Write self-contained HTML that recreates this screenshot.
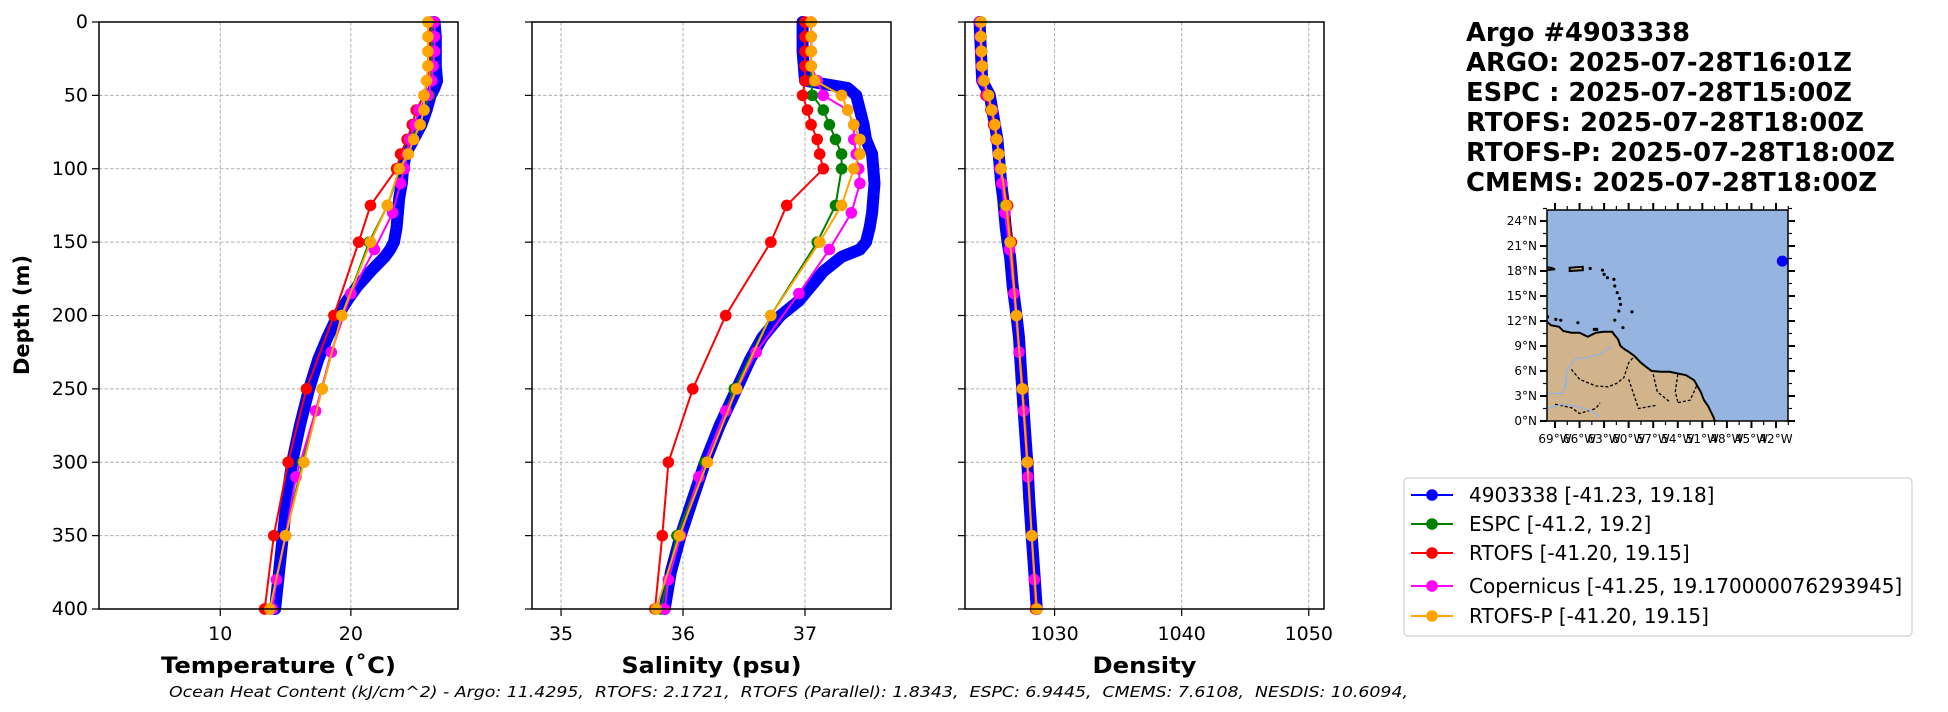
<!DOCTYPE html>
<html><head><meta charset="utf-8"><style>
html,body{margin:0;padding:0;background:#fff;}
svg{display:block;font-family:"DejaVu Sans","Liberation Sans",sans-serif;}
</style></head><body>
<svg id="fig" width="1948" height="712" viewBox="0 0 1948 712" xmlns="http://www.w3.org/2000/svg">
<rect width="1948" height="712" fill="#fff"/>
<g id="panels"></g>
<g id="titles" font-weight="bold" font-size="26" fill="#000">
<text x="1466" y="41" textLength="224" lengthAdjust="spacingAndGlyphs">Argo #4903338</text>
<text x="1466" y="71" textLength="386" lengthAdjust="spacingAndGlyphs">ARGO: 2025-07-28T16:01Z</text>
<text x="1466" y="101" textLength="386" lengthAdjust="spacingAndGlyphs">ESPC : 2025-07-28T15:00Z</text>
<text x="1466" y="131" textLength="398" lengthAdjust="spacingAndGlyphs">RTOFS: 2025-07-28T18:00Z</text>
<text x="1466" y="161" textLength="429" lengthAdjust="spacingAndGlyphs">RTOFS-P: 2025-07-28T18:00Z</text>
<text x="1466" y="191" textLength="411" lengthAdjust="spacingAndGlyphs">CMEMS: 2025-07-28T18:00Z</text>
</g>
<g id="map"></g>
<g id="legend"></g>
<text x="22" y="315" transform="rotate(-90 22 315)" text-anchor="middle" dominant-baseline="central" font-weight="bold" font-size="21">Depth (m)</text>
<text x="169" y="697" font-style="italic" font-size="15.5" style="white-space:pre" textLength="1239" lengthAdjust="spacingAndGlyphs">Ocean Heat Content (kJ/cm^2) - Argo: 11.4295,  RTOFS: 2.1721,  RTOFS (Parallel): 1.8343,  ESPC: 6.9445,  CMEMS: 7.6108,  NESDIS: 10.6094,</text>
</svg>
<script>
// ---- data ----
const argoDepth = [0,10,20,30,40,45,50,60,70,80,90,100,110,120,130,140,150,155,160,170,180,190,200,215,230,250,275,300,325,350,375,400];
const argoTemp  = [26.4,26.5,26.5,26.5,26.6,26.4,26.1,25.8,25.4,24.8,24.2,24.0,23.9,23.7,23.6,23.5,23.3,23.0,22.6,21.5,20.5,19.7,19.0,18.2,17.5,16.8,16.1,15.5,15.1,14.8,14.5,14.2];
const argoSal   = [36.98,36.98,36.98,36.99,37.0,37.35,37.42,37.45,37.48,37.5,37.55,37.56,37.57,37.56,37.55,37.53,37.5,37.45,37.3,37.15,37.05,36.95,36.8,36.65,36.55,36.44,36.3,36.18,36.08,35.98,35.9,35.85];
const argoDens  = [1024.1,1024.15,1024.2,1024.25,1024.3,1024.6,1024.9,1025.1,1025.3,1025.5,1025.6,1025.7,1025.8,1025.95,1026.05,1026.15,1026.3,1026.4,1026.5,1026.6,1026.7,1026.85,1027.0,1027.2,1027.3,1027.45,1027.65,1027.85,1028.0,1028.2,1028.4,1028.6];

const modelDepth = [0,10,20,30,40,50,60,70,80,90,100,125,150,200,250,300,350,400];
const espcTemp  = [26.2,26.2,26.2,26.2,26.1,26.0,25.6,25.3,24.5,24.2,23.8,22.8,21.4,19.3,17.8,16.3,15.0,13.8];
const espcSal   = [37.05,37.05,37.05,37.05,37.05,37.06,37.15,37.2,37.25,37.3,37.3,37.25,37.1,36.72,36.42,36.18,35.95,35.82];
const espcDens  = [1024.2,1024.2,1024.25,1024.3,1024.4,1024.7,1025.0,1025.25,1025.45,1025.6,1025.75,1026.1,1026.5,1027.0,1027.5,1027.9,1028.2,1028.6];
const rtofsTemp = [26.0,26.0,26.0,26.0,25.9,25.6,25.0,24.7,24.3,23.8,23.5,21.5,20.6,18.7,16.6,15.2,14.1,13.4];
const rtofsSal  = [37.0,37.0,37.0,37.0,37.0,36.98,37.02,37.05,37.1,37.12,37.15,36.85,36.72,36.35,36.08,35.88,35.83,35.77];
const rtofsDens = [1024.2,1024.2,1024.25,1024.3,1024.4,1024.6,1025.0,1025.2,1025.4,1025.6,1025.75,1026.3,1026.6,1027.0,1027.5,1027.9,1028.2,1028.5];
const rtofspTemp= [25.9,25.9,25.9,25.9,25.8,25.6,25.6,25.3,24.8,24.4,23.7,22.8,21.5,19.3,17.8,16.4,15.0,13.8];
const rtofspSal = [37.05,37.05,37.05,37.05,37.08,37.3,37.35,37.4,37.45,37.45,37.4,37.3,37.12,36.72,36.44,36.2,35.97,35.78];
const rtofspDens= [1024.2,1024.2,1024.25,1024.3,1024.45,1024.8,1025.05,1025.3,1025.45,1025.6,1025.8,1026.2,1026.5,1027.0,1027.45,1027.85,1028.2,1028.6];
const copDepth  = [0,10,20,30,40,50,60,70,80,90,100,110,130,155,185,225,265,310,350,380,400];
const copTemp   = [26.4,26.4,26.4,26.3,26.2,25.9,25.2,24.9,24.5,24.3,24.1,23.8,23.2,21.8,20.0,18.5,17.3,15.8,15.0,14.3,14.0];
const copSal    = [37.05,37.05,37.05,37.05,37.1,37.15,37.35,37.4,37.4,37.42,37.44,37.45,37.38,37.2,36.95,36.6,36.35,36.13,35.98,35.88,35.85];
const copDens   = [1024.1,1024.15,1024.2,1024.25,1024.35,1024.7,1025.1,1025.3,1025.45,1025.6,1025.7,1025.85,1026.1,1026.45,1026.8,1027.2,1027.55,1027.9,1028.2,1028.4,1028.6];

const depthTicks = [0,50,100,150,200,250,300,350,400];
const tempTicks = [10,20];
const salTicks = [35,36,37];
const densTicks = [1030,1040,1050];
const latTicks = [0,3,6,9,12,15,18,21,24];
const lonTicks = [-69,-66,-63,-60,-57,-54,-51,-48,-45,-42];
const argoLon = -41.23, argoLat = 19.18;

const NS='http://www.w3.org/2000/svg';
function mk(tag, attrs, parent){const e=document.createElementNS(NS,tag);for(const k in attrs)e.setAttribute(k,attrs[k]);if(parent)parent.appendChild(e);return e;}

const Y0=22, Y1=609;
function yDepth(d){return Y0+(d/400)*(Y1-Y0);}

const panels=[
 {name:'temperature',x0:99,x1:458,lo:0.72,hi:28.2,ticks:tempTicks,label:'Temperature (˚C)',labelLen:235,showY:true,
  series:[['argo',argoDepth,argoTemp],['espc',modelDepth,espcTemp],['rtofs',modelDepth,rtofsTemp],['copernicus',copDepth,copTemp],['rtofsp',modelDepth,rtofspTemp]]},
 {name:'salinity',x0:532,x1:891,lo:34.762,hi:37.705,ticks:salTicks,label:'Salinity (psu)',labelLen:180,showY:false,
  series:[['argo',argoDepth,argoSal],['espc',modelDepth,espcSal],['rtofs',modelDepth,rtofsSal],['copernicus',copDepth,copSal],['rtofsp',modelDepth,rtofspSal]]},
 {name:'density',x0:965,x1:1324,lo:1022.95,hi:1051.2,ticks:densTicks,label:'Density',labelLen:104,showY:false,
  series:[['argo',argoDepth,argoDens],['espc',modelDepth,espcDens],['rtofs',modelDepth,rtofsDens],['copernicus',copDepth,copDens],['rtofsp',modelDepth,rtofspDens]]}
];
const colors={argo:'#0000ff',espc:'#008000',rtofs:'#ff0000',copernicus:'#ff00ff',rtofsp:'#ffa500'};

const P=document.getElementById('panels');
panels.forEach(p=>{
  const g=mk('g',{},P);
  
  
  const xs=v=>p.x0+(v-p.lo)/(p.hi-p.lo)*(p.x1-p.x0);
  depthTicks.forEach(d=>{
    const l=mk('line',{x1:p.x0,x2:p.x1,y1:yDepth(d),y2:yDepth(d),stroke:'#b0b0b0','stroke-width':1,'stroke-dasharray':'3.5,2'},g);
    
    
    const t=mk('line',{x1:p.x0-7,x2:p.x0,y1:yDepth(d),y2:yDepth(d),stroke:'#000','stroke-width':1.2},g);
    
    
    if(p.showY){
      const tx=mk('text',{x:p.x0-11,y:yDepth(d),'text-anchor':'end','dominant-baseline':'central','font-size':19},g);
      tx.textContent=d;
      
      
    }
  });
  p.ticks.forEach(v=>{
    const l=mk('line',{x1:xs(v),x2:xs(v),y1:Y0,y2:Y1,stroke:'#b0b0b0','stroke-width':1,'stroke-dasharray':'3.5,2'},g);
    
    
    const t=mk('line',{x1:xs(v),x2:xs(v),y1:Y1,y2:Y1+7,stroke:'#000','stroke-width':1.2},g);
    
    
    const tx=mk('text',{x:xs(v),y:Y1+31,'text-anchor':'middle','font-size':19},g);
    tx.textContent=v;
    
    
  });
  p.series.forEach(([key,dep,vals])=>{
    const sg=mk('g',{},g);
    
    
    const pts=dep.map((d,i)=>xs(vals[i]).toFixed(1)+','+yDepth(d).toFixed(1)).join(' ');
    const isArgo=key==='argo';
    mk('polyline',{points:pts,fill:'none',stroke:colors[key],'stroke-width':isArgo?12:2,'stroke-linejoin':'round','stroke-linecap':'round'},sg);
    dep.forEach((d,i)=>{
      const c=mk('circle',{cx:xs(vals[i]),cy:yDepth(d),r:5.8,fill:colors[key]},sg);
      
      
    });
  });
  const fr=mk('rect',{x:p.x0,y:Y0,width:p.x1-p.x0,height:Y1-Y0,fill:'none',stroke:'#000','stroke-width':1.5},g);
  
  
  const lb=mk('text',{x:(p.x0+p.x1)/2,y:673,'text-anchor':'middle','font-size':22,'font-weight':'bold',textLength:p.labelLen,lengthAdjust:'spacingAndGlyphs'},g);
  lb.textContent=p.label;
  
  
});

// ---- map ----
const M=document.getElementById('map');
const MX0=1547,MX1=1788,MY0=210,MY1=421;
const mx=lon=>1555+(lon+69)*(1776-1555)/27;
const my=lat=>MY1-lat*(MY1-221)/24;
const mapClip=mk('clipPath',{id:'mclip'},M);
mk('rect',{x:MX0,y:MY0,width:MX1-MX0,height:MY1-MY0},mapClip);
const ocean=mk('rect',{x:MX0,y:MY0,width:MX1-MX0,height:MY1-MY0,fill:'#95b4e0'},M);


const land=[[-71,11.8],[-70,11.9],[-69.5,11.5],[-68.5,11.3],[-68,10.8],[-67,10.6],[-66,10.6],[-65,10.1],[-64,10.6],[-63,10.7],[-62,10.7],[-61.8,10.4],[-61.3,9.8],[-61,9],[-60.5,8.6],[-60,8.3],[-59.3,7.8],[-58.5,7],[-58,6.6],[-57.2,6],[-56,5.9],[-55,5.9],[-54,5.7],[-53,5.5],[-52,4.9],[-51.6,4.2],[-51.2,3.5],[-50.8,2.5],[-50.3,1.8],[-50,1.2],[-49.6,0.4],[-49.2,-1],[-71,-1]];
const lg=mk('g',{'clip-path':'url(#mclip)'},M);
const lp=mk('polygon',{points:land.map(q=>mx(q[0]).toFixed(1)+','+my(q[1]).toFixed(1)).join(' '),fill:'#d2b48c',stroke:'#000','stroke-width':2},lg);


[[[-71,18.5],[-69.5,18.4],[-69,18.2],[-71,18]],[[-67.2,18.4],[-65.6,18.5],[-65.6,18.1],[-67.2,18]]].forEach(isl=>{
  const e=mk('polygon',{points:isl.map(q=>mx(q[0]).toFixed(1)+','+my(q[1]).toFixed(1)).join(' '),fill:'#d2b48c',stroke:'#000','stroke-width':2},lg);
  
  
});
[[-64.7,18.3],[-63.2,18.1],[-63,17.6],[-62.6,17.2],[-61.8,17],[-61.7,16.2],[-61.4,15.4],[-61.1,14.7],[-61,14],[-61.2,13.2],[-61.7,12.1],[-60.7,11.2],[-59.6,13.1],[-68.9,12.2],[-68.3,12.1],[-69.9,12.5],[-66.2,11.8],[-64.2,11],[-63.9,11]].forEach(q=>{
  const e=mk('circle',{cx:mx(q[0]),cy:my(q[1]),r:1.6,fill:'#000'},lg);
  
  
});
[[[-67,6.2],[-66,5],[-64,4.2],[-62.5,4.1],[-61.5,4.5],[-60.6,5.2],[-60,7],[-59.3,7.8]],[[-60,5],[-58.8,1.5],[-56.5,1.9]],[[-57,5.6],[-56.5,3.5],[-55,2.3]],[[-54,5.6],[-54.3,3.5],[-54,2.3]],[[-51.7,4.2],[-52.5,2.5],[-54,2.2]],[[-69,2],[-67,1.6],[-66,0.9],[-64,1.5],[-63.5,2.2]]].forEach(b=>{
  const e=mk('polyline',{points:b.map(q=>mx(q[0]).toFixed(1)+','+my(q[1]).toFixed(1)).join(' '),fill:'none',stroke:'#000','stroke-width':1.3,'stroke-dasharray':'3,2'},lg);
  
  
});
[[[-62,9],[-63.5,8],[-65,7.6],[-66.5,7.5],[-67.5,6.2],[-67.7,4]],[[-70,1.5],[-68,2],[-66.5,1.8],[-64.5,1.2],[-63.5,0.5]],[[-70,3.3],[-68,3.3],[-67.5,6]]].forEach(r=>{
  const e=mk('polyline',{points:r.map(q=>mx(q[0]).toFixed(1)+','+my(q[1]).toFixed(1)).join(' '),fill:'none',stroke:'#95b4e0','stroke-width':1.3},lg);
  
  
});
const dot=mk('circle',{cx:mx(argoLon),cy:my(argoLat),r:5.5,fill:'#0000ff'},M);


mk('rect',{x:MX0,y:MY0,width:MX1-MX0,height:MY1-MY0,fill:'none',stroke:'#000','stroke-width':1.5},M);
latTicks.forEach(l=>{
  [[MX0-7,MX0],[MX1,MX1+7]].forEach(s=>mk('line',{x1:s[0],x2:s[1],y1:my(l),y2:my(l),stroke:'#000','stroke-width':2},M));
  mk('line',{x1:MX0-4,x2:MX0,y1:my(l+1.5),y2:my(l+1.5),stroke:'#000','stroke-width':1.2},M);
  mk('line',{x1:MX1,x2:MX1+4,y1:my(l+1.5),y2:my(l+1.5),stroke:'#000','stroke-width':1.2},M);
  const t=mk('text',{x:MX0-10,y:my(l),'text-anchor':'end','dominant-baseline':'central','font-size':12},M);
  t.textContent=l+'°N';
  
  
});
lonTicks.forEach(l=>{
  [[MY0-7,MY0],[MY1,MY1+7]].forEach(s=>mk('line',{x1:mx(l),x2:mx(l),y1:s[0],y2:s[1],stroke:'#000','stroke-width':2},M));
  mk('line',{x1:mx(l+1.5),x2:mx(l+1.5),y1:MY0-4,y2:MY0,stroke:'#000','stroke-width':1.2},M);
  mk('line',{x1:mx(l+1.5),x2:mx(l+1.5),y1:MY1,y2:MY1+4,stroke:'#000','stroke-width':1.2},M);
  const t=mk('text',{x:mx(l),y:MY1+22,'text-anchor':'middle','font-size':12},M);
  t.textContent=Math.abs(l)+'°W';
  
  
});

// ---- legend ----
const L=document.getElementById('legend');
mk('rect',{x:1404,y:478,width:508,height:158,rx:4,fill:'#fff',stroke:'#d0d0d0','stroke-width':1.2},L);
const legItems=[['argo','4903338 [-41.23, 19.18]'],['espc','ESPC [-41.2, 19.2]'],['rtofs','RTOFS [-41.20, 19.15]'],['copernicus','Copernicus [-41.25, 19.170000076293945]'],['rtofsp','RTOFS-P [-41.20, 19.15]']];
const legY=[495,524,553,586,616];
legItems.forEach((it,i)=>{
  const g=mk('g',{},L);
  
  
  mk('line',{x1:1411,x2:1453,y1:legY[i],y2:legY[i],stroke:colors[it[0]],'stroke-width':2},g);
  mk('circle',{cx:1432,cy:legY[i],r:5.8,fill:colors[it[0]]},g);
  const t=mk('text',{x:1469,y:legY[i],'dominant-baseline':'central','font-size':20},g);
  t.textContent=it[1];
});
</script>
</body></html>
